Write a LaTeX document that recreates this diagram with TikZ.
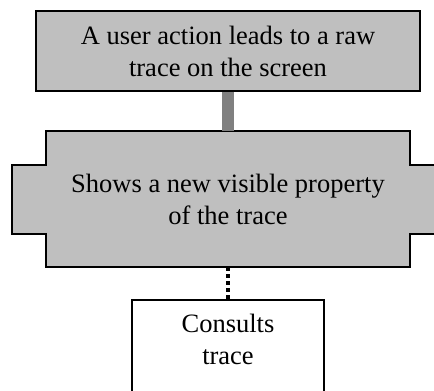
\documentclass[tikz,border=0pt]{standalone}
\usepackage{fontspec}
\setmainfont{Liberation Serif}
\usetikzlibrary{positioning}

\tikzset{
  boxfont/.style={font=\fontsize{26.5}{32}\selectfont},
  graybox/.style={draw=black, line width=1.5pt, fill=black!25, align=center, boxfont},
  whitebox/.style={draw=black, line width=1.5pt, fill=white, align=center, boxfont},
  thicklink/.style={draw=black!50, line width=12pt},
  dotlink/.style={draw=black, line width=3.5pt, dash pattern=on 4pt off 3pt}
}

\begin{document}
\begin{tikzpicture}[x=1pt,y=-1pt]
\useasboundingbox (0,0) rectangle (434,391);
\begin{scope}
\clip (0,0) rectangle (434,391);
% the top box
\node[graybox, minimum width=384pt, minimum height=80pt] (action) at (228,51)
  {A user action leads to a raw\\trace on the screen};
% the cross shaped one in the middle
\filldraw[fill=black!25, line width=1.5pt] (46,131) -- (410,131) -- (410,165) -- (444,165)
  -- (444,234) -- (410,234) -- (410,267) -- (46,267) -- (46,234) -- (12,234)
  -- (12,165) -- (46,165) -- cycle;
\node[align=center, boxfont, inner sep=0pt,
  minimum width=364pt, minimum height=136pt] (prop) at (228,199)
  {Shows a new visible property\\of the trace};
% the bottom box, cut off by the page
\node[whitebox, anchor=north, minimum width=192pt, inner xsep=6pt, inner ysep=14pt]
  (consult) at (228,299) {Consults\\trace\\\mbox{}};
\draw[thicklink] (action.south) -- (prop.north);
\draw[dotlink] (prop.south) -- (consult.north);
\end{scope}
\end{tikzpicture}
\end{document}
